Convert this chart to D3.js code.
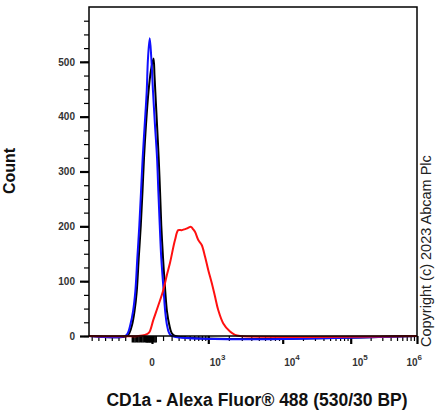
<!DOCTYPE html>
<html>
<head>
<meta charset="utf-8">
<script src="https://cdn.jsdelivr.net/npm/d3@7/dist/d3.min.js"></script>
<style>
  body { margin: 0; background: #fff; }
  svg text { font-family: 'Liberation Sans', Arial, sans-serif; }
</style>
</head>
<body>
<div id="visual"></div>
<script>
// fluorescence value / event count
const blackFluor = [-373, -336, -298, -261, -228, -198, -167, -142, -119, -90, -52, -15, 12, 20, 27, 42, 57, 70, 82, 100, 124, 143, 171, 199, 250];
const blackCount = [0, 6, 20, 45, 81, 142, 202, 263, 325, 385, 446, 485, 506, 476, 446, 385, 325, 263, 202, 142, 81, 45, 20, 6, 0];

const blueFluor = [-398, -358, -324, -283, -249, -219, -189, -164, -139, -109, -79, -60, -34, -10, 8, 24, 42, 54, 67, 82, 107, 123, 143, 167, 205];
const blueCount = [0, 6, 20, 45, 81, 142, 202, 263, 325, 385, 446, 506, 543, 506, 446, 385, 325, 263, 202, 142, 81, 45, 20, 6, 0];

const redFluor = [-204, -104, -45, 10, 54, 103, 140, 179, 246, 295, 350, 409, 466, 528, 573, 619, 702, 795, 893, 1000, 1129, 1267, 1417, 1673, 2078, 2432, 2840];
const redCount = [0, 2, 6, 29, 56, 84, 110, 133, 175, 193, 193, 195, 197, 199, 195, 190, 175, 166, 145, 120, 97, 72, 47, 23, 8, 2, 0];

const yTickLabels = [0, 100, 200, 300, 400, 500];
const xDecades = [3, 4, 5, 6];

const xTitle = 'CD1a - Alexa Fluor® 488 (530/30 BP)';
const yTitle = 'Count';
const copyright = 'Copyright (c) 2023 Abcam Plc';

// biex-like transform: linear below zero, log above
const tf = v => (v < 0 ? v / 1000 : Math.log10(1 + v / 300));

const width = 442;
const height = 412;
const plot = { left: 89, top: 7, right: 417, bottom: 336 };

const x = d3.scaleLinear()
  .domain([-940, 0, 1e3, 1e4, 1e5, 1e6].map(tf))
  .range([plot.left, 152, 208.3, 282.7, 350.7, plot.right]);

const y = d3.scaleLinear()
  .domain([0, 600])
  .range([plot.bottom, plot.top]);

const svg = d3.select('#visual').append('svg')
  .attr('width', width)
  .attr('height', height);

// ---- y axis ticks
const yMinor = svg.append('g')
  .attr('transform', `translate(${plot.left},0)`)
  .call(d3.axisLeft(y).tickValues(d3.range(0, 600, 25)).tickSize(5).tickFormat(''));
yMinor.select('.domain').remove();
yMinor.selectAll('line').attr('stroke-width', 1.2);

const yMajor = svg.append('g')
  .attr('transform', `translate(${plot.left},0)`)
  .call(d3.axisLeft(y).tickValues(yTickLabels).tickSize(9).tickPadding(5));
yMajor.select('.domain').remove();
yMajor.selectAll('line').attr('stroke-width', 2.2);
yMajor.selectAll('text')
  .attr('font-size', '10px')
  .attr('font-weight', 'bold')
  .attr('fill', '#333');

// ---- x axis ticks
const minorVals = [];
d3.range(-900, -300, 100).forEach(v => minorVals.push(v));
d3.range(100, 1000, 100).forEach(v => minorVals.push(v));
[3, 4, 5].forEach((k) => {
  for (let m = 2; m <= 9; m += 1) minorVals.push(m * 10 ** k);
});
// dense cluster of ticks around zero
const nearZero = d3.range(-300, 40, 10).filter(v => v !== 0 && (v > -100 || v % 20 === 0));

const addXTicks = (vals, size, sw) => {
  const g = svg.append('g')
    .attr('transform', `translate(0,${plot.bottom})`)
    .call(d3.axisBottom(x).tickValues(vals.map(tf)).tickSize(size).tickFormat(''));
  g.select('.domain').remove();
  g.selectAll('line').attr('stroke-width', sw);
};
addXTicks(minorVals, 5, 1.2);
addXTicks(nearZero, 6.5, 1.6);
addXTicks([0, ...xDecades.map(k => 10 ** k)], 8, 2.2);

// ---- x tick labels
svg.append('text')
  .attr('x', x(tf(0)))
  .attr('y', 366)
  .attr('text-anchor', 'middle')
  .attr('font-size', '10px')
  .attr('font-weight', 'bold')
  .attr('fill', '#333')
  .text('0');

xDecades.forEach((k, i) => {
  const last = i === xDecades.length - 1;
  const t = svg.append('text')
    .attr('x', x(tf(10 ** k)) + (last ? 5 : 1.5))
    .attr('y', 366)
    .attr('text-anchor', last ? 'end' : 'start')
    .attr('font-size', '10px')
    .attr('font-weight', 'bold')
    .attr('fill', '#333');
  t.append('tspan').text('10');
  t.append('tspan')
    .attr('dy', -6)
    .attr('font-size', '8px')
    .text(k);
});

// ---- histograms
const line = d3.line()
  .x(d => x(tf(d[0])))
  .y(d => y(d[1]))
  .curve(d3.curveCatmullRom.alpha(0.5));

const [xMin, xMax] = [-940, 1e6];
const series = [
  { fluor: blackFluor, count: blackCount, color: '#000000' },
  { fluor: blueFluor, count: blueCount, color: '#1010ff' },
  { fluor: redFluor, count: redCount, color: '#ff1010' },
];

series.forEach((s) => {
  const pts = [[xMin, 0], ...s.fluor.map((f, i) => [f, s.count[i]]), [xMax, 0]];
  svg.append('path')
    .datum(pts)
    .attr('fill', 'none')
    .attr('stroke', s.color)
    .attr('stroke-width', 2)
    .attr('stroke-linejoin', 'round')
    .attr('d', line);
});

// ---- frame
svg.append('rect')
  .attr('x', plot.left)
  .attr('y', plot.top)
  .attr('width', plot.right - plot.left)
  .attr('height', plot.bottom - plot.top)
  .attr('fill', 'none')
  .attr('stroke', '#000')
  .attr('stroke-width', 1.5);

// ---- titles
svg.append('text')
  .attr('x', 257)
  .attr('y', 406)
  .attr('text-anchor', 'middle')
  .attr('font-size', '17.5px')
  .attr('font-weight', 'bold')
  .attr('fill', '#111')
  .text(xTitle);

svg.append('text')
  .attr('transform', 'translate(15,171) rotate(-90)')
  .attr('text-anchor', 'middle')
  .attr('font-size', '16px')
  .attr('font-weight', 'bold')
  .attr('fill', '#111')
  .text(yTitle);

svg.append('text')
  .attr('transform', 'translate(431,347) rotate(-90)')
  .attr('text-anchor', 'start')
  .attr('font-size', '14.5px')
  .attr('fill', '#222')
  .text(copyright);
</script>
</body>
</html>
